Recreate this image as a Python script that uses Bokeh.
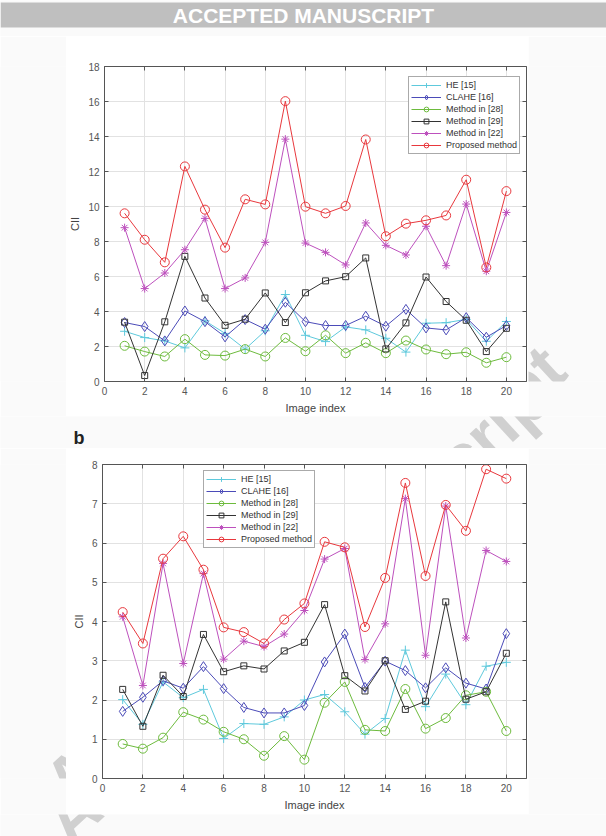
from bokeh.plotting import figure
from bokeh.layouts import column, row
from bokeh.models import (LinearAxis, FixedTicker, Range1d, Label, CustomJSTickFormatter)
from bokeh.embed import file_html
from bokeh.resources import INLINE

# ---- data -------------------------------------------------------------
image_index = list(range(1, 21))

series_labels = ["HE [15]", "CLAHE [16]", "Method in [28]", "Method in [29]",
                 "Method in [22]", "Proposed method"]

# panel (a): CII per test image
a_he    = [2.87, 2.51, 2.32, 1.92, 3.47, 2.75, 1.85, 2.90, 4.97, 2.64,
           2.28, 3.12, 2.95, 2.47, 1.68, 3.33, 3.36, 3.55, 2.30, 3.43]
a_clahe = [3.37, 3.14, 2.32, 4.03, 3.42, 2.55, 3.54, 2.99, 4.53, 3.42,
           3.20, 3.20, 3.73, 3.16, 4.12, 3.06, 2.95, 3.65, 2.53, 3.20]
a_m28   = [2.04, 1.71, 1.43, 2.42, 1.52, 1.48, 1.85, 1.43, 2.49, 1.73,
           2.64, 1.62, 2.21, 1.62, 2.34, 1.83, 1.56, 1.67, 1.07, 1.39]
a_m29   = [3.39, 0.34, 3.41, 7.15, 4.77, 3.21, 3.56, 5.06, 3.37, 5.07,
           5.75, 5.99, 7.06, 1.86, 3.35, 5.97, 4.57, 3.50, 1.71, 3.04]
a_m22   = [8.79, 5.31, 6.20, 7.53, 9.32, 5.31, 5.92, 7.95, 13.85, 7.91,
           7.38, 6.66, 9.06, 7.78, 7.23, 8.87, 6.62, 10.14, 6.30, 9.66]
a_prop  = [9.61, 8.10, 6.81, 12.29, 9.82, 7.65, 10.41, 10.12, 16.02, 9.99,
           9.61, 10.03, 13.83, 8.30, 9.02, 9.21, 9.49, 11.53, 6.52, 10.88]

# panel (b)
b_he    = [2.01, 1.38, 2.46, 2.06, 2.27, 1.02, 1.40, 1.38, 1.57, 2.00,
           2.14, 1.70, 1.13, 1.53, 3.27, 1.83, 2.66, 1.88, 2.86, 2.96]
b_clahe = [1.71, 2.07, 2.49, 2.30, 2.85, 2.29, 1.81, 1.67, 1.67, 1.86,
           2.97, 3.68, 2.32, 2.99, 2.75, 2.31, 2.82, 2.43, 2.28, 3.69]
b_m28   = [0.88, 0.76, 1.04, 1.69, 1.50, 1.19, 1.00, 0.58, 1.08, 0.48,
           1.93, 2.46, 1.24, 1.21, 2.28, 1.27, 1.54, 2.12, 2.21, 1.21]
b_m29   = [2.27, 1.33, 2.63, 2.09, 3.67, 2.72, 2.87, 2.79, 3.25, 3.47,
           4.43, 2.62, 2.23, 3.00, 1.76, 1.97, 4.50, 2.02, 2.21, 3.19]
b_m22   = [4.12, 2.37, 5.48, 2.93, 5.22, 3.04, 3.50, 3.36, 3.68, 4.28,
           5.59, 5.86, 3.03, 3.94, 7.13, 3.14, 6.94, 3.58, 5.81, 5.53]
b_prop  = [4.24, 3.44, 5.60, 6.17, 5.32, 3.85, 3.73, 3.44, 4.05, 4.46,
           6.03, 5.89, 3.86, 5.11, 7.53, 5.16, 6.97, 6.31, 7.88, 7.64]

x_ticks = list(range(0, 21, 2))
a_y_ticks = list(range(0, 19, 2))
b_y_ticks = list(range(0, 9))

# ---- styling ----------------------------------------------------------
colors  = ["#5ec9dc", "#4b4bb8", "#6dbb3d", "#333333", "#bd50bd", "#e8383d"]
markers = ["cross", "diamond", "circle", "square", "asterisk", "circle"]
sizes   = [9, 10, 9, 6, 8, 9]

FONT = "Liberation Sans"
PAGE_BG = "#fafafa"
PAGE_W = 606
SHEET_L, SHEET_R = 66, 528      # horizontal extent of each chart sheet
FRAME_L, FRAME_R = 102, 526     # plot area inside the sheet

# diagonal watermark: left end of the text's centre line, on the page (px)
WM_X, WM_Y, WM_ANGLE = 54, 830, 0.742
WM_COLOR = "#d0d0d0"


def style_axis(ax, show_labels=True):
    ax.axis_line_color = "#555555"
    ax.major_tick_line_color = "#555555"
    ax.major_tick_in = 4
    ax.major_tick_out = 0
    ax.minor_tick_line_color = None
    ax.major_label_text_font = FONT
    ax.major_label_text_font_size = "10px"
    ax.major_label_text_color = "#555555"
    ax.major_label_standoff = 5
    ax.axis_label_text_font = FONT
    ax.axis_label_text_font_size = "11px"
    ax.axis_label_text_font_style = "normal"
    ax.axis_label_text_color = "#444444"
    ax.axis_label_standoff = 4
    if not show_labels:
        ax.formatter = CustomJSTickFormatter(code="return ''")
        ax.major_label_text_font_size = "0px"
        ax.major_label_standoff = 0


def page_strip(x0, x1, y0, y1, watermark=False, wm_at=(WM_X, WM_Y)):
    """A plain piece of the page; its data space is page pixels (y downwards)."""
    f = figure(width=x1 - x0, height=y1 - y0,
               x_range=Range1d(x0, x1), y_range=Range1d(y1, y0),
               min_border=0, toolbar_location=None, output_backend="svg",
               x_axis_location=None, y_axis_location=None,
               outline_line_color=None, background_fill_color=PAGE_BG,
               border_fill_color=PAGE_BG)
    f.grid.visible = False
    if watermark:
        f.add_layout(Label(x=wm_at[0], y=wm_at[1], text="Accepted Manuscript",
                           angle=WM_ANGLE, text_font=FONT, text_font_style="bold",
                           text_font_size="67px", text_color=WM_COLOR,
                           text_baseline="middle", text_align="left"))
    return f


def build_panel(values, y_ticks, sheet_top, sheet_bottom, frame_top, frame_bottom,
                legend_xy):
    p = figure(width=SHEET_R - SHEET_L, height=sheet_bottom - sheet_top,
               x_range=Range1d(0, 21), y_range=Range1d(0, y_ticks[-1]),
               output_backend="svg", toolbar_location=None,
               min_border_left=FRAME_L - SHEET_L, min_border_right=SHEET_R - FRAME_R,
               min_border_top=frame_top - sheet_top,
               min_border_bottom=sheet_bottom - frame_bottom,
               x_axis_label="Image index", y_axis_label="CII",
               border_fill_color="white", background_fill_color="white",
               outline_line_color=None)

    for lbl, ys, col, mk, sz in zip(series_labels, values, colors, markers, sizes):
        p.line(image_index, ys, line_color=col, line_width=1, legend_label=lbl)
        p.scatter(image_index, ys, marker=mk, size=sz, line_color=col,
                  fill_color=None, line_width=1, legend_label=lbl)

    p.xaxis.ticker = FixedTicker(ticks=x_ticks)
    p.yaxis.ticker = FixedTicker(ticks=y_ticks)
    for ax in p.xaxis + p.yaxis:
        style_axis(ax)

    top_ax = LinearAxis(ticker=FixedTicker(ticks=x_ticks))
    right_ax = LinearAxis(ticker=FixedTicker(ticks=y_ticks))
    style_axis(top_ax, show_labels=False)
    style_axis(right_ax, show_labels=False)
    p.add_layout(top_ax, "above")
    p.add_layout(right_ax, "right")

    p.xgrid.ticker = FixedTicker(ticks=x_ticks)
    p.ygrid.ticker = FixedTicker(ticks=y_ticks)
    for g in (p.xgrid, p.ygrid):
        g.grid_line_color = "#e2e2e2"
        g.grid_line_width = 1

    lg = p.legend[0]
    lg.location = legend_xy
    lg.label_text_font = FONT
    lg.label_text_font_size = "9px"
    lg.label_text_color = "#333333"
    lg.label_height = 12
    lg.glyph_height = 12
    lg.glyph_width = 30
    lg.label_standoff = 5
    lg.spacing = 0
    lg.padding = 2
    lg.margin = 0
    lg.border_line_color = "#555555"
    lg.border_line_width = 1
    lg.background_fill_color = "white"
    lg.background_fill_alpha = 1.0
    return p


# ---- page pieces (page rows: 0-36 banner, 36-416 panel a, 416-448 gap,
#      448-814 panel b, 814-836 foot) -------------------------------------
top = page_strip(0, PAGE_W, 0, 36)
top.quad(left=[0], right=[PAGE_W], top=[2], bottom=[27],
         fill_color="#bfbfbf", line_color=None)
top.add_layout(Label(x=303, y=15, text="ACCEPTED MANUSCRIPT", text_font=FONT,
                     text_font_style="bold", text_font_size="21px",
                     text_color="white", text_align="center",
                     text_baseline="middle"))

p1 = build_panel([a_he, a_clahe, a_m28, a_m29, a_m22, a_prop], a_y_ticks,
                 sheet_top=36, sheet_bottom=416, frame_top=66, frame_bottom=381,
                 legend_xy=(304, 227))
# the narrow right margin places the watermark with its own anchor
row1 = row(page_strip(0, SHEET_L, 36, 416), p1,
           page_strip(SHEET_R, PAGE_W, 36, 416, watermark=True,
                      wm_at=(WM_X, WM_Y + 110)),
           spacing=0)

gap = page_strip(0, PAGE_W, 416, 448, watermark=True)
gap.add_layout(Label(x=73, y=437, text="b", text_font=FONT, text_font_style="bold",
                     text_font_size="18px", text_color="#222222",
                     text_baseline="middle", text_align="left"))

p2 = build_panel([b_he, b_clahe, b_m28, b_m29, b_m22, b_prop], b_y_ticks,
                 sheet_top=448, sheet_bottom=814, frame_top=464, frame_bottom=778,
                 legend_xy=(101, 230))
row2 = row(page_strip(0, SHEET_L, 448, 814, watermark=True), p2,
           page_strip(SHEET_R, PAGE_W, 448, 814), spacing=0)

foot = page_strip(0, PAGE_W, 814, 836, watermark=True)

page = column(top, row1, gap, row2, foot, spacing=0)
open("out.html", "w").write(file_html(page, INLINE))
